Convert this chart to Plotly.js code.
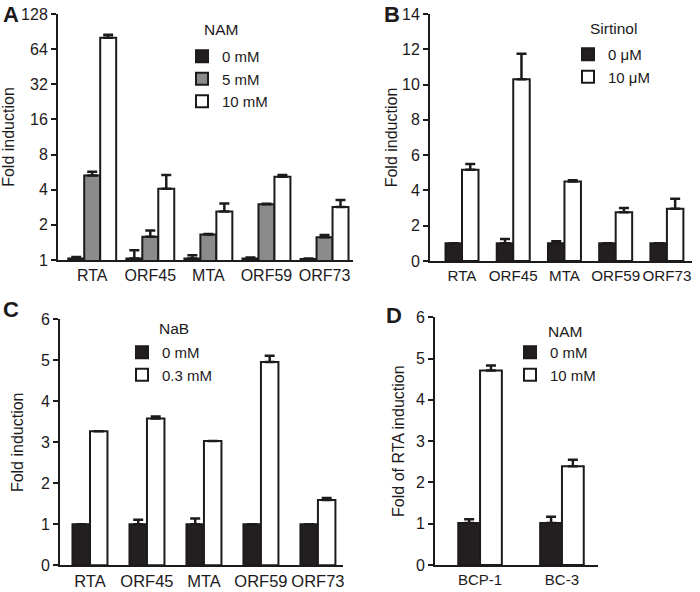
<!DOCTYPE html>
<html>
<head>
<meta charset="utf-8">
<script src="https://cdn.plot.ly/plotly-3.0.1.min.js"></script>
<style>html,body{margin:0;padding:0;background:#fff;}#chart{width:700px;height:592px;}</style>
</head>
<body>
<div id="chart"></div>
<script>
// ---------- Data ----------
const genes = ['RTA', 'ORF45', 'MTA', 'ORF59', 'ORF73'];
const cells = ['BCP-1', 'BC-3'];

// Panel A: NAM (log2 scale)
const namATitle = 'NAM';
const namANames = ['0 mM', '5 mM', '10 mM'];
const namA0 = [1.03, 1.03, 1.03, 1.03, 1.02];
const namA0Err = [0.03, 0.18, 0.07, 0.02, 0.01];
const namA5 = [5.3, 1.58, 1.65, 3.0, 1.57];
const namA5Err = [0.4, 0.21, 0.02, 0.03, 0.07];
const namA10 = [80, 4.08, 2.6, 5.17, 2.84];
const namA10Err = [5, 1.27, 0.45, 0.18, 0.43];
const aTicks = [1, 2, 4, 8, 16, 32, 64, 128];

// Panel B: Sirtinol
const sirTitle = 'Sirtinol';
const sirNames = ['0 \u03bcM', '10 \u03bcM'];
const sir0 = [1.0, 1.0, 1.0, 1.0, 1.0];
const sir0Err = [0, 0.24, 0.12, 0, 0];
const sir10 = [5.17, 10.3, 4.5, 2.77, 2.96];
const sir10Err = [0.33, 1.45, 0.08, 0.23, 0.57];
const bTicks = [0, 2, 4, 6, 8, 10, 12, 14];

// Panel C: NaB
const nabTitle = 'NaB';
const nabNames = ['0 mM', '0.3 mM'];
const nab0 = [1.0, 1.0, 1.0, 1.0, 1.0];
const nab0Err = [0, 0.11, 0.14, 0, 0];
const nab03 = [3.27, 3.58, 3.03, 4.96, 1.59];
const nab03Err = [0, 0.05, 0, 0.15, 0.05];
const cdTicks = [0, 1, 2, 3, 4, 5, 6];

// Panel D: NAM, RTA induction in cell lines
const namDTitle = 'NAM';
const namDNames = ['0 mM', '10 mM'];
const namD0 = [1.02, 1.02];
const namD0Err = [0.09, 0.15];
const namD10 = [4.71, 2.39];
const namD10Err = [0.12, 0.16];

// ---------- Style ----------
const FONT = 'Liberation Sans, Arial, Helvetica, sans-serif';
const INK = '#1c1a1b';
const BLACK = '#231f20';
const GRAY = '#8b8b8b';
const WHITE = '#ffffff';

function zeros(a) { return a.map(() => 0); }

function barTrace(x, y, err, name, color, xa, ya, legend, idx, n, w) {
  return {
    type: 'bar', x: x, y: y, name: name,
    xaxis: xa, yaxis: ya, legend: legend,
    width: w, offset: -n * w / 2 + idx * w,
    marker: { color: color, line: { color: INK, width: 2 } },
    error_y: { type: 'data', symmetric: false, array: err, arrayminus: zeros(err),
               color: INK, thickness: 2.5, width: 5 },
    hoverinfo: 'x+y+name'
  };
}

const wA = 0.275, wB = 0.322, wC = 0.307, wD = 0.266;

const traces = [
  barTrace(genes, namA0, namA0Err, namANames[0], BLACK, 'x', 'y', 'legend', 0, 3, wA),
  barTrace(genes, namA5, namA5Err, namANames[1], GRAY, 'x', 'y', 'legend', 1, 3, wA),
  barTrace(genes, namA10, namA10Err, namANames[2], WHITE, 'x', 'y', 'legend', 2, 3, wA),
  barTrace(genes, sir0, sir0Err, sirNames[0], BLACK, 'x2', 'y2', 'legend2', 0, 2, wB),
  barTrace(genes, sir10, sir10Err, sirNames[1], WHITE, 'x2', 'y2', 'legend2', 1, 2, wB),
  barTrace(genes, nab0, nab0Err, nabNames[0], BLACK, 'x3', 'y3', 'legend3', 0, 2, wC),
  barTrace(genes, nab03, nab03Err, nabNames[1], WHITE, 'x3', 'y3', 'legend3', 1, 2, wC),
  barTrace(cells, namD0, namD0Err, namDNames[0], BLACK, 'x4', 'y4', 'legend4', 0, 2, wD),
  barTrace(cells, namD10, namD10Err, namDNames[1], WHITE, 'x4', 'y4', 'legend4', 1, 2, wD)
];

const W = 700, H = 592;
function px(x) { return x / W; }
function py(y) { return 1 - y / H; }

function xAxis(d0, d1, r0, r1, anchor, fs) {
  return {
    domain: [px(d0), px(d1)], range: [r0, r1], anchor: anchor, type: 'category',
    showline: true, linecolor: INK, linewidth: 2, ticks: '', showgrid: false, zeroline: false,
    tickangle: 0,
    tickfont: { family: FONT, size: fs, color: INK }, fixedrange: true
  };
}
function yAxis(top, bottom, anchor, title, standoff, extra) {
  return Object.assign({
    domain: [py(bottom), py(top)], anchor: anchor,
    showline: true, linecolor: INK, linewidth: 2, ticks: 'outside', ticklen: 5, tickwidth: 2, tickcolor: INK,
    showgrid: false, zeroline: false,
    tickfont: { family: FONT, size: 16, color: INK },
    title: { text: title, font: { family: FONT, size: 16, color: INK }, standoff: standoff },
    fixedrange: true
  }, extra);
}
function legendBox(x, y) {
  return {
    x: px(x), y: py(y), xanchor: 'left', yanchor: 'top',
    bgcolor: 'rgba(0,0,0,0)', borderwidth: 0,
    font: { family: FONT, size: 15, color: INK },
    itemwidth: 30, traceorder: 'normal',
    itemclick: false, itemdoubleclick: false
  };
}
function letter(t, x, y) {
  return { text: '<b>' + t + '</b>', x: px(x), y: py(y), xref: 'paper', yref: 'paper',
           xanchor: 'left', yanchor: 'middle', showarrow: false,
           font: { family: FONT, size: 22, color: INK } };
}
function legendTitle(t, x, y) {
  return { text: t, x: px(x), y: py(y), xref: 'paper', yref: 'paper',
           xanchor: 'left', yanchor: 'middle', showarrow: false, xshift: -1,
           font: { family: FONT, size: 15.5, color: INK } };
}

const layout = {
  width: W, height: H, margin: { l: 0, r: 0, t: 0, b: 0 },
  paper_bgcolor: '#fff', plot_bgcolor: 'rgba(0,0,0,0)',
  barmode: 'overlay', showlegend: true,
  font: { family: FONT, color: INK },
  xaxis: xAxis(58, 353, -0.589, 4.49, 'y', 16),
  yaxis: yAxis(14, 260, 'x', 'Fold induction', 3, {
    type: 'log', range: [0, Math.log10(128)], tickvals: aTicks, ticktext: aTicks.map(String)
  }),
  xaxis2: xAxis(430, 692, -0.625, 4.49, 'y2', 15.2),
  yaxis2: yAxis(14, 261, 'x2', 'Fold induction', 0, { range: [0, 14], tickvals: bTicks }),
  xaxis3: xAxis(60, 343, -0.526, 4.44, 'y3', 16.5),
  yaxis3: yAxis(319.3, 565.3, 'x3', 'Fold induction', 13, { range: [0, 6], tickvals: cdTicks }),
  xaxis4: xAxis(435, 598, -0.55, 1.44, 'y4', 15),
  yaxis4: yAxis(317.3, 565, 'x4', 'Fold of RTA induction', 7, { range: [0, 6], tickvals: cdTicks }),
  legend: legendBox(182, 40),
  legend2: legendBox(568, 38),
  legend3: legendBox(122, 336),
  legend4: legendBox(510, 336),
  annotations: [
    letter('A', 1, 15), letter('B', 382, 15), letter('C', 1, 309), letter('D', 384, 315),
    legendTitle(namATitle, 203, 30), legendTitle(sirTitle, 589, 28.5),
    legendTitle(nabTitle, 158, 328), legendTitle(namDTitle, 547, 331.7)
  ]
};

Plotly.newPlot('chart', traces, layout, { staticPlot: true, displayModeBar: false });
</script>
</body>
</html>
